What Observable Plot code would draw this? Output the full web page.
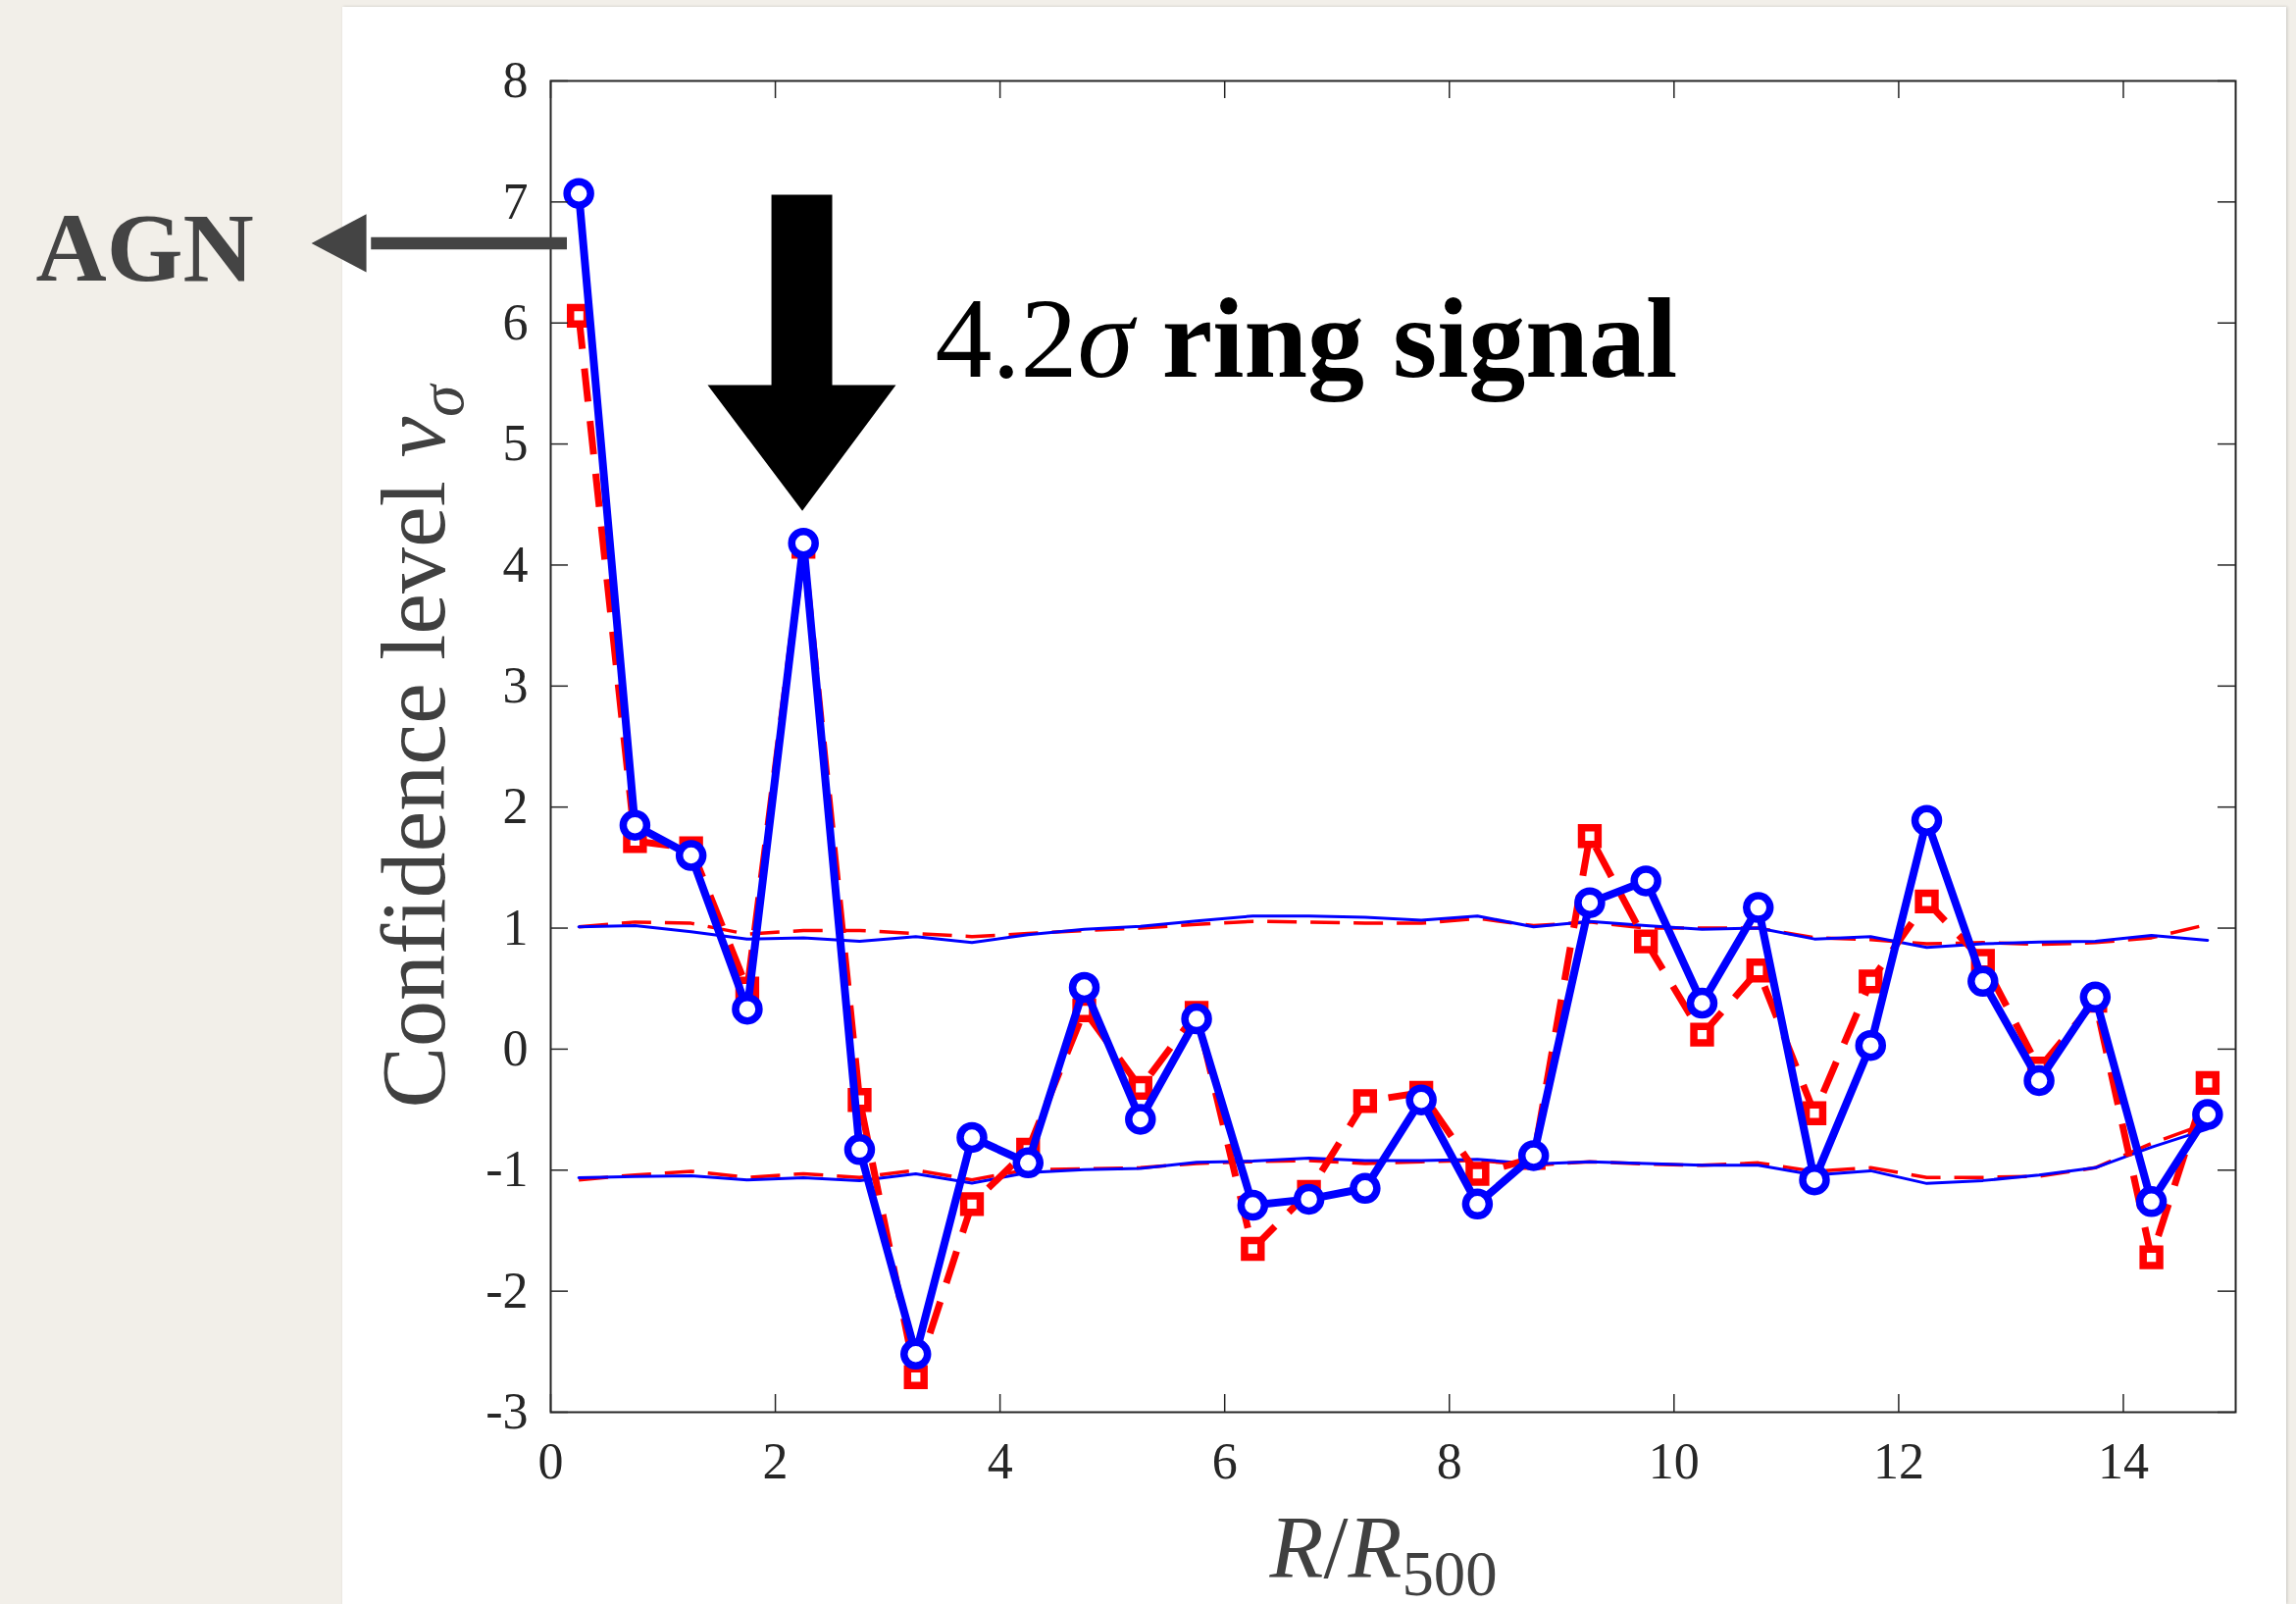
<!DOCTYPE html>
<html>
<head>
<meta charset="utf-8">
<script src="https://cdn.jsdelivr.net/npm/d3@7"></script>
<script src="https://cdn.jsdelivr.net/npm/@observablehq/plot@0.6"></script>
<style>
  html, body { margin: 0; padding: 0; }
  body { width: 2341px; height: 1635px; background: #f2efe9; position: relative; overflow: hidden; font-family: "Liberation Serif", serif; }
  #panel { position: absolute; left: 349px; top: 7px; width: 1982px; height: 1628px; background: #ffffff; box-shadow: 1px 0 3px rgba(0,0,0,0.18); }
  #chart { position: absolute; left: 0; top: 0; width: 2341px; height: 1635px; }
</style>
</head>
<body>
<div id="panel"></div>
<div id="chart"></div>
<script>
// ---- data ----
const radius = [0.25, 0.75, 1.25, 1.75, 2.25, 2.75, 3.25, 3.75, 4.25, 4.75, 5.25, 5.75, 6.25, 6.75, 7.25,
                7.75, 8.25, 8.75, 9.25, 9.75, 10.25, 10.75, 11.25, 11.75, 12.25, 12.75, 13.25, 13.75, 14.25, 14.75];
const nuBlue = [7.07, 1.85, 1.60, 0.33, 4.18, -0.83, -2.52, -0.73, -0.94, 0.51, -0.58, 0.25, -1.29, -1.24, -1.15,
                -0.42, -1.28, -0.88, 1.21, 1.39, 0.38, 1.17, -1.08, 0.03, 1.89, 0.56, -0.26, 0.43, -1.26, -0.54];
const nuRed = [6.06, 1.72, 1.66, 0.50, 4.15, -0.42, -2.71, -1.28, -0.83, 0.32, -0.32, 0.30, -1.65, -1.18, -0.43,
               -0.36, -1.03, -0.90, 1.76, 0.89, 0.12, 0.65, -0.53, 0.56, 1.22, 0.73, -0.16, 0.40, -1.72, -0.28];
const upperBlue = [1.01, 1.02, 0.97, 0.91, 0.92, 0.89, 0.93, 0.88, 0.945, 0.99, 1.015, 1.06, 1.10, 1.10, 1.09,
                   1.066, 1.10, 1.01, 1.056, 1.02, 0.99, 1.0, 0.91, 0.93, 0.84, 0.87, 0.885, 0.89, 0.94, 0.90];
const upperRed = [1.01, 1.05, 1.04, 0.95, 0.98, 0.98, 0.955, 0.93, 0.955, 0.98, 1.0, 1.03, 1.056, 1.05, 1.04,
                  1.04, 1.08, 1.02, 1.05, 1.0, 1.0, 1.0, 0.92, 0.905, 0.87, 0.88, 0.865, 0.88, 0.92, 1.03];
const lowerBlue = [-1.063, -1.053, -1.046, -1.08, -1.063, -1.087, -1.03, -1.107, -1.02, -0.996, -0.986, -0.935, -0.925, -0.90, -0.92,
                   -0.92, -0.91, -0.95, -0.93, -0.945, -0.96, -0.96, -1.04, -1.005, -1.11, -1.086, -1.04, -0.98, -0.81, -0.66];
const lowerRed = [-1.08, -1.04, -1.01, -1.06, -1.03, -1.06, -1.0, -1.08, -0.995, -0.99, -0.98, -0.945, -0.93, -0.92, -0.945,
                  -0.93, -0.92, -0.96, -0.93, -0.95, -0.96, -0.94, -1.01, -0.98, -1.06, -1.06, -1.05, -0.98, -0.78, -0.61];
const xTicks = [0, 2, 4, 6, 8, 10, 12, 14];
const yTicks = [-3, -2, -1, 0, 1, 2, 3, 4, 5, 6, 7, 8];

// annotations (data coordinates)
const agnNote = [{x: -4.584, y: 6.354, text: "AGN"}];
const agnShaft = [{x: -1.60, y: 6.658}, {x: 0.144, y: 6.658}];
const agnHead = [{x: -2.13, y: 6.658}, {x: -1.641, y: 6.90}, {x: -1.641, y: 6.42}];
const ringArrow = [{x: 1.965, y: 7.06}, {x: 2.506, y: 7.06}, {x: 2.506, y: 5.487}, {x: 3.073, y: 5.487},
                   {x: 2.240, y: 4.448}, {x: 1.397, y: 5.487}, {x: 1.965, y: 5.487}];
const ringNote = [{x: 3.423, y: 5.56, text: "4.2σ ring signal"}];
const yLabel = "Confidence level νσ";
const xLabel = "R/R500";

const profile = radius.map((r, i) => ({
  r, blue: nuBlue[i], red: nuRed[i],
  ub: upperBlue[i], ur: upperRed[i], lb: lowerBlue[i], lr: lowerRed[i]
}));

// ---- layout ----
const W = 2341, H = 1635;
const mL = 561, mR = W - 2279, mT = 82, mB = H - 1439;
const innerW = W - mL - mR, innerH = H - mT - mB;
const axisColor = "#262626";
const tickLen = 18;

const plot = Plot.plot({
  width: W, height: H,
  marginLeft: mL, marginRight: mR, marginTop: mT, marginBottom: mB,
  x: {domain: [0, 15]},
  y: {domain: [-3, 8]},
  style: {background: "transparent", fontFamily: "'Liberation Serif', serif", fontSize: "52px", color: axisColor, maxWidth: "none", overflow: "visible"},
  marks: [
    // envelopes
    Plot.line(profile, {x: "r", y: "ur", stroke: "#ff0000", strokeWidth: 3.5, strokeDasharray: "30,14", strokeLinecap: "butt"}),
    Plot.line(profile, {x: "r", y: "lr", stroke: "#ff0000", strokeWidth: 3.5, strokeDasharray: "30,14", strokeLinecap: "butt"}),
    Plot.line(profile, {x: "r", y: "ub", stroke: "#0000ff", strokeWidth: 3}),
    Plot.line(profile, {x: "r", y: "lb", stroke: "#0000ff", strokeWidth: 3}),
    // red dashed profile
    Plot.line(profile, {x: "r", y: "red", stroke: "#ff0000", strokeWidth: 7, strokeDasharray: "34,20", strokeLinecap: "butt", strokeLinejoin: "miter"}),
    Plot.dot(profile, {x: "r", y: "red", symbol: "square", r: 9.5, stroke: "#ff0000", strokeWidth: 7.5, fill: "#ffffff"}),
    // blue profile
    Plot.line(profile, {x: "r", y: "blue", stroke: "#0000ff", strokeWidth: 8}),
    Plot.dot(profile, {x: "r", y: "blue", r: 12, stroke: "#0000ff", strokeWidth: 7.5, fill: "#ffffff"}),
    // ticks (inward, all four sides)
    Plot.tickX(xTicks, {x: d => d, insetTop: innerH - tickLen, stroke: axisColor, strokeWidth: 1.5}),
    Plot.tickX(xTicks, {x: d => d, insetBottom: innerH - tickLen, stroke: axisColor, strokeWidth: 1.5}),
    Plot.tickY(yTicks, {y: d => d, insetRight: innerW - tickLen, stroke: axisColor, strokeWidth: 1.5}),
    Plot.tickY(yTicks, {y: d => d, insetLeft: innerW - tickLen, stroke: axisColor, strokeWidth: 1.5}),
    Plot.frame({stroke: axisColor, strokeWidth: 2}),
    // tick labels
    Plot.axisX(xTicks, {anchor: "bottom", tickSize: 0, tickPadding: 31, label: null, tickFormat: d => String(d), fill: axisColor}),
    Plot.axisY(yTicks, {anchor: "left", tickSize: 0, tickPadding: 23, label: null, tickFormat: d => String(d), fill: axisColor}),
    // axis titles
    Plot.text([yLabel], {text: d => d, frameAnchor: "left", dx: -109, rotate: -90, textAnchor: "middle", lineAnchor: "bottom", fontSize: 94, fill: "#404040"}),
    Plot.text([xLabel], {text: d => d, frameAnchor: "bottom", dx: -10, dy: 168, textAnchor: "middle", lineAnchor: "bottom", fontSize: 90, fill: "#404040"}),
    // annotations
    Plot.line(agnShaft, {x: "x", y: "y", stroke: "#444444", strokeWidth: 12.5, strokeLinecap: "butt"}),
    Plot.line(agnHead, {x: "x", y: "y", fill: "#444444", stroke: "none"}),
    Plot.text(agnNote, {x: "x", y: "y", text: "text", textAnchor: "start", lineAnchor: "bottom", fontSize: 100, fontWeight: "bold", fill: "#444444"}),
    Plot.line(ringArrow, {x: "x", y: "y", fill: "#000000", stroke: "none"}),
    Plot.text(ringNote, {x: "x", y: "y", text: "text", textAnchor: "start", lineAnchor: "bottom", fontSize: 116, fill: "#000000"})
  ]
});

document.getElementById("chart").appendChild(plot);

// rich text (italics, subscripts, mixed weights)
const NS = "http://www.w3.org/2000/svg";
function rich(node, parts) {
  node.textContent = "";
  for (const [s, attrs] of parts) {
    const ts = document.createElementNS(NS, "tspan");
    for (const k in attrs) ts.setAttribute(k, attrs[k]);
    ts.textContent = s;
    node.appendChild(ts);
  }
}
plot.querySelectorAll("text").forEach(t => {
  const s = t.textContent;
  if (s === yLabel) rich(t, [["Confidence level ", {}], ["ν", {"font-style": "italic"}], ["σ", {"font-style": "italic", "font-size": "70%", "dy": "0.3em"}]]);
  else if (s === xLabel) rich(t, [["R", {"font-style": "italic"}], ["/", {}], ["R", {"font-style": "italic"}], ["500", {"font-size": "72%", "dy": "0.28em"}]]);
  else if (s === ringNote[0].text) rich(t, [["4.2", {}], ["σ", {"font-style": "italic"}], [" ring signal", {"font-weight": "bold"}]]);
});
</script>
</body>
</html>
